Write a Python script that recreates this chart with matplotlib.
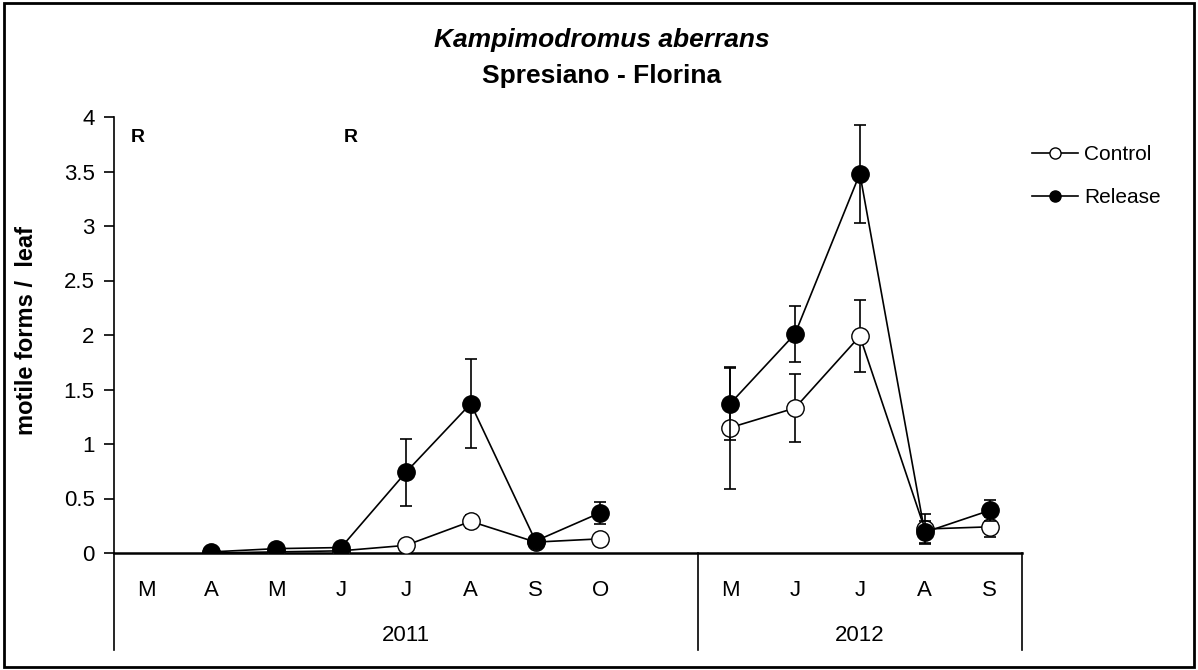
import numpy as np
import matplotlib
matplotlib.use('Agg')
import matplotlib.pyplot as plt
from matplotlib.patches import Rectangle
from matplotlib.lines import Line2D

plt.rcParams['font.family'] = ['Liberation Sans', 'DejaVu Sans']

# months on the category axis (empty slot after October 2011)
months = ['M', 'A', 'M', 'J', 'J', 'A', 'S', 'O', '', 'M', 'J', 'J', 'A', 'S']
years = ['2011', '2012']
year_slots = [(0, 9), (9, 14)]

# sampled positions (index into months), one list per year
idx_2011 = [1, 2, 3, 4, 5, 6, 7]
idx_2012 = [9, 10, 11, 12, 13]

control_2011 = [0.0, 0.01, 0.02, 0.07, 0.29, 0.10, 0.13]
control_se_2011 = [0, 0, 0, 0, 0.06, 0, 0]
control_2012 = [1.15, 1.33, 1.99, 0.22, 0.24]
control_se_2012 = [0.56, 0.31, 0.33, 0.14, 0.09]

release_2011 = [0.01, 0.04, 0.05, 0.74, 1.37, 0.11, 0.37]
release_se_2011 = [0, 0, 0, 0.31, 0.41, 0, 0.10]
release_2012 = [1.37, 2.01, 3.48, 0.19, 0.39]
release_se_2012 = [0.33, 0.26, 0.45, 0.10, 0.10]

fig = plt.figure(figsize=(11.98, 6.70), dpi=100)
ax = fig.add_axes([114/1198, 1-553/670, (1022-114)/1198, (553-117)/670])

style = dict(fmt='-o', color='black', mec='black', ms=12.5, lw=1.2, elinewidth=1.2,
             capsize=4.5, capthick=1.2)
for x, y, e in [(idx_2011, control_2011, control_se_2011),
                (idx_2012, control_2012, control_se_2012)]:
    ax.errorbar(x, y, yerr=e, mfc='white', zorder=3, **style)
for x, y, e in [(idx_2011, release_2011, release_se_2011),
                (idx_2012, release_2012, release_se_2012)]:
    ax.errorbar(x, y, yerr=e, mfc='black', zorder=4, **style)

ax.set_xlim(-0.5, len(months) - 0.5)
ax.set_ylim(0, 4)
ax.set_yticks(np.arange(0, 4.01, 0.5))
ax.set_yticklabels(['0', '0.5', '1', '1.5', '2', '2.5', '3', '3.5', '4'])
ax.set_xticks(range(len(months)))
ax.set_xticklabels(months)
ax.tick_params(axis='x', length=0, pad=19.5, labelsize=16)
ax.tick_params(axis='y', length=7, width=1.2, labelsize=16, pad=7)

for s in ['top', 'right']:
    ax.spines[s].set_visible(False)
ax.spines['left'].set_linewidth(1.2)
ax.spines['bottom'].set_linewidth(1.8)

# year group frame below the axis
low = -0.222
ax.plot([-0.5, -0.5], [0, low], transform=ax.get_xaxis_transform(), color='black',
        lw=1.2, clip_on=False)
for (a, b), yr in zip(year_slots, years):
    ax.plot([b - 0.5, b - 0.5], [0, low], transform=ax.get_xaxis_transform(),
            color='black', lw=1.2, clip_on=False)
    ax.text((a + b - 1) / 2, -0.19, yr, transform=ax.get_xaxis_transform(),
            ha='center', va='center', fontsize=16)

ax.set_ylabel('motile forms /  leaf', fontsize=17, fontweight='bold')
ax.yaxis.set_label_coords(-0.084, 0.51)

# release dates
ax.text(-0.13, 3.81, 'R', fontsize=14, fontweight='bold', ha='center', va='center')
ax.text(3.15, 3.81, 'R', fontsize=14, fontweight='bold', ha='center', va='center')

fig.text(0.502, 1-40/670, 'Kampimodromus aberrans', fontsize=19, fontweight='bold',
         style='italic', ha='center', va='center')
fig.text(0.502, 1-76/670, 'Spresiano - Florina', fontsize=19, fontweight='bold',
         ha='center', va='center')

handles = [
    Line2D([], [], color='black', lw=1.2, marker='o', mfc='white', mec='black', ms=8),
    Line2D([], [], color='black', lw=1.2, marker='o', mfc='black', mec='black', ms=8),
]
ax.legend(handles, ['Control', 'Release'], loc='upper left',
          bbox_to_anchor=(1.002, 1-20/436), frameon=False, fontsize=15,
          handlelength=2.2, handletextpad=0.3, labelspacing=1.15, borderaxespad=0)

fig.patches.append(Rectangle((0.003, 0.004), 0.994, 0.992, transform=fig.transFigure,
                             fill=False, edgecolor='black', lw=2))

fig.savefig('out.png', dpi=100)
